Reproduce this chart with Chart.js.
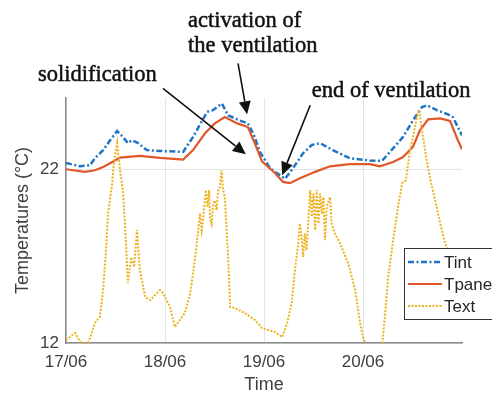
<!DOCTYPE html>
<html>
<head>
<meta charset="utf-8">
<script src="https://cdn.jsdelivr.net/npm/chart.js@4.4.1/dist/chart.umd.min.js"></script>
<style>
  html, body { margin: 0; padding: 0; background: #fff; }
</style>
</head>
<body>
<canvas id="myChart" width="492" height="396"></canvas>
<script>
// time axis is in hours from 17/06 00:00
var tintHours = [0, 3.4, 5.8, 7.0, 9.0, 10.7, 12.4, 13.8, 15.0, 16.0, 17.5, 19.6, 22.8, 28.4, 30.8, 34.2, 35.6, 37.8, 39.3, 42.2, 44.1, 45.5, 47.0, 49.5, 53.1, 55.0, 57.4, 59.6, 61.6, 64.7, 68.8, 73.7, 76.6, 79.3, 81.7, 84.1, 86.3, 87.5, 89.9, 92.6, 93.8, 96.0];
var tintTemps = [22.36, 22.17, 22.23, 22.63, 23.1, 23.67, 24.2, 23.86, 23.5, 23.67, 23.5, 23.1, 23.05, 23.0, 23.86, 25.3, 25.4, 25.78, 25.1, 24.8, 24.64, 24.0, 23.0, 22.05, 21.45, 22.05, 22.9, 23.4, 23.5, 23.1, 22.63, 22.5, 22.48, 23.2, 23.86, 24.8, 25.58, 25.68, 25.4, 25.16, 24.99, 23.95];

var tpanelHours = [0, 4.6, 7.0, 9.0, 11.2, 13.1, 17.9, 22.8, 28.4, 30.8, 33.7, 36.1, 38.5, 41.5, 44.1, 45.8, 47.5, 50.7, 52.6, 54.3, 56.7, 60.4, 64.0, 68.8, 73.7, 76.1, 79.3, 81.7, 84.1, 85.8, 87.8, 90.7, 93.1, 95.0, 96.0];
var tpanelTemps = [22.0, 21.85, 21.94, 22.13, 22.42, 22.67, 22.77, 22.65, 22.56, 23.1, 24.07, 24.64, 25.0, 24.64, 24.43, 23.48, 22.45, 21.77, 21.27, 21.2, 21.48, 21.85, 22.17, 22.29, 22.29, 22.17, 22.42, 22.7, 23.28, 24.24, 24.87, 24.93, 24.78, 23.67, 23.15];

var textHours = [0, 1.0, 2.2, 3.4, 5.3, 7.0, 8.2, 9.0, 9.7, 10.2, 11.2, 11.6, 12.4, 13.1, 13.8, 14.5, 15.0, 15.8, 16.5, 17.2, 17.9, 19.2, 20.4, 21.6, 22.8, 23.5, 25.2, 26.4, 27.6, 28.8, 30.1, 30.8, 31.5,
    32.5, 32.9, 33.3, 33.9, 34.3, 34.7, 34.9, 35.3, 35.7, 36.1, 36.5, 36.9, 37.3, 37.7, 38.1, 38.5,
    39.3, 39.8, 41.0, 43.4, 45.8, 47.5, 49.0, 50.7, 52.4, 53.6, 54.7, 55.5,
    56.3, 56.7, 57.1, 57.5, 57.9, 58.3, 59.2, 59.6, 60.0, 60.4, 60.8, 61.2, 61.6, 62.0, 62.4, 62.8, 63.2, 64.0, 64.4, 65.2,
    66.4, 68.4, 70.1, 71.3, 72.0, 73.0, 74.9, 76.6, 77.3, 78.1, 79.3, 80.5, 81.5, 82.4, 83.4, 84.1, 85.1, 85.6, 86.3, 87.3, 88.2, 89.5, 90.7, 91.9, 93.1, 94.5, 96.0];
var textTemps = [12.17, 12.36, 12.57, 12.07, 11.9, 13.15, 13.5, 15.05, 17.34, 19.47, 21.2, 22.35, 23.5, 21.94, 20.8, 17.9, 15.45, 16.94, 16.37, 18.5, 16.2, 14.64, 14.47, 14.76, 15.05, 14.87, 14.07, 12.92, 13.32, 13.72, 14.87, 16.0, 17.34,
    19.45, 18.5, 19.26, 20.8, 19.83, 20.8, 19.26, 18.88, 20.03, 20.2, 19.64, 20.8, 20.98, 21.94, 20.8, 20.4,
    16.94, 14.07, 14.0, 13.72, 13.32, 12.86, 12.75, 12.63, 12.34, 13.15, 14.28, 16.2,
    17.73, 18.88, 18.11, 16.96, 18.3, 17.34, 20.8, 19.26, 20.6, 18.5, 20.8, 18.88, 20.6, 19.45, 20.4, 17.92, 19.83, 20.4, 18.88, 18.3,
    17.75, 16.6, 15.05, 13.15, 12.34, 11.6, 11.0, 11.8, 13.5, 15.8, 17.92, 19.82, 21.2, 21.37, 23.1, 23.84, 25.0, 25.4, 24.24, 22.7, 21.54, 20.2, 18.9, 17.75, 16.94, 15.9, 14.9];

var dayTicks = [0, 24, 48, 72];
var dayLabels = ['17/06', '18/06', '19/06', '20/06'];
var tempTicks = [12, 22];

// callouts, anchored in (hours, degC)
var notes = [
    { text: ['activation of', 'the ventilation'], at: [29.6, 30.16], from: [41.7, 28.09], to: [43.9, 25.16] },
    { text: ['solidification'], at: [-6.8, 27.06], from: [23.5, 26.66], to: [43.6, 22.86] },
    { text: ['end of ventilation'], at: [59.6, 26.14], from: [59.2, 25.68], to: [52.4, 21.66] }
];

function toPoints(xs, ys) {
    return xs.map(function (x, i) { return { x: x, y: ys[i] }; });
}

var sans = "'Liberation Sans', Arial, sans-serif";
var serif = "'Liberation Serif', 'Times New Roman', serif";

var boxLegend = {
    id: 'boxLegend',
    afterDraw: function (chart) {
        var ctx = chart.ctx;
        var area = chart.chartArea;
        var x0 = area.right - 58, y0 = area.top + 150;
        ctx.save();
        ctx.fillStyle = '#fff';
        ctx.strokeStyle = '#333';
        ctx.lineWidth = 1;
        ctx.fillRect(x0, y0, 100, 72);
        ctx.strokeRect(x0 + 0.5, y0 + 0.5, 100, 71);
        ctx.font = '17px ' + sans;
        ctx.textBaseline = 'middle';
        chart.data.datasets.forEach(function (ds, i) {
            var y = y0 + 14 + i * 22;
            ctx.beginPath();
            ctx.strokeStyle = ds.borderColor;
            ctx.lineWidth = ds.borderWidth;
            ctx.setLineDash(ds.borderDash || []);
            ctx.moveTo(x0 + 4, y);
            ctx.lineTo(x0 + 38, y);
            ctx.stroke();
            ctx.setLineDash([]);
            ctx.fillStyle = '#262626';
            ctx.fillText(ds.label, x0 + 40, y + 1);
        });
        ctx.restore();
    }
};

var callouts = {
    id: 'callouts',
    afterDraw: function (chart) {
        var ctx = chart.ctx;
        var xs = chart.scales.x, ys = chart.scales.y;
        ctx.save();
        ctx.font = '22.5px ' + serif;
        ctx.fillStyle = '#111';
        ctx.strokeStyle = '#111';
        ctx.textBaseline = 'alphabetic';
        notes.forEach(function (n) {
            var tx = xs.getPixelForValue(n.at[0]);
            var ty = ys.getPixelForValue(n.at[1]);
            ctx.lineWidth = 0.5;
            n.text.forEach(function (line, i) {
                ctx.fillText(line, tx, ty + i * 25);
                ctx.strokeText(line, tx, ty + i * 25);
            });
            var x1 = xs.getPixelForValue(n.from[0]), y1 = ys.getPixelForValue(n.from[1]);
            var x2 = xs.getPixelForValue(n.to[0]), y2 = ys.getPixelForValue(n.to[1]);
            var a = Math.atan2(y2 - y1, x2 - x1);
            var len = 13, half = 6;
            var bx = x2 - len * Math.cos(a), by = y2 - len * Math.sin(a);
            ctx.lineWidth = 1.6;
            ctx.beginPath();
            ctx.moveTo(x1, y1);
            ctx.lineTo(bx, by);
            ctx.stroke();
            ctx.beginPath();
            ctx.moveTo(x2, y2);
            ctx.lineTo(bx + half * Math.sin(a), by - half * Math.cos(a));
            ctx.lineTo(bx - half * Math.sin(a), by + half * Math.cos(a));
            ctx.closePath();
            ctx.fill();
        });
        ctx.restore();
    }
};

var ctx = document.getElementById('myChart').getContext('2d');

var chart = new Chart(ctx, {
    type: 'line',
    data: {
        datasets: [
            {
                label: 'Tint',
                data: toPoints(tintHours, tintTemps),
                borderColor: '#1f74c4',
                borderWidth: 2.5,
                borderDash: [6, 2.5, 2, 2.5],
                order: 3
            },
            {
                label: 'Tpanel',
                data: toPoints(tpanelHours, tpanelTemps),
                borderColor: '#e0582a',
                borderWidth: 2.2,
                order: 2
            },
            {
                label: 'Text',
                data: toPoints(textHours, textTemps),
                borderColor: '#eeb21f',
                borderWidth: 2,
                borderDash: [2, 1.5],
                order: 1
            }
        ]
    },
    options: {
        responsive: false,
        animation: false,
        devicePixelRatio: 1,
        layout: { padding: { top: 98, right: 30, left: 0, bottom: 0 } },
        elements: {
            point: { radius: 0 },
            line: { tension: 0, fill: false }
        },
        plugins: {
            legend: { display: false },
            tooltip: { enabled: false }
        },
        scales: {
            x: {
                type: 'linear',
                min: 0,
                max: 96,
                afterBuildTicks: function (scale) {
                    scale.ticks = dayTicks.map(function (v) { return { value: v }; });
                },
                afterFit: function (scale) { scale.height = 53; },
                ticks: {
                    padding: 9,
                    color: '#404040',
                    font: { family: sans, size: 17 },
                    maxRotation: 0,
                    callback: function (v) { return dayLabels[dayTicks.indexOf(v)]; }
                },
                grid: { color: '#e4e4e4', lineWidth: 1, drawTicks: false },
                border: { color: '#8a8a8a', width: 1.5 },
                title: {
                    display: true,
                    text: 'Time',
                    color: '#404040',
                    font: { family: sans, size: 18 },
                    padding: { top: 0, bottom: 0 }
                }
            },
            y: {
                min: 12,
                max: 26.1,
                afterBuildTicks: function (scale) {
                    scale.ticks = tempTicks.map(function (v) { return { value: v }; });
                },
                afterFit: function (scale) { scale.width = 66; },
                ticks: {
                    padding: 7,
                    color: '#404040',
                    font: { family: sans, size: 17 }
                },
                grid: { color: '#e4e4e4', lineWidth: 1, drawTicks: false },
                border: { color: '#8a8a8a', width: 1.5 },
                title: {
                    display: true,
                    text: 'Temperatures (°C)',
                    color: '#404040',
                    font: { family: sans, size: 18 },
                    padding: { top: 12, bottom: 0 }
                }
            }
        }
    },
    plugins: [boxLegend, callouts]
});
</script>
</body>
</html>
